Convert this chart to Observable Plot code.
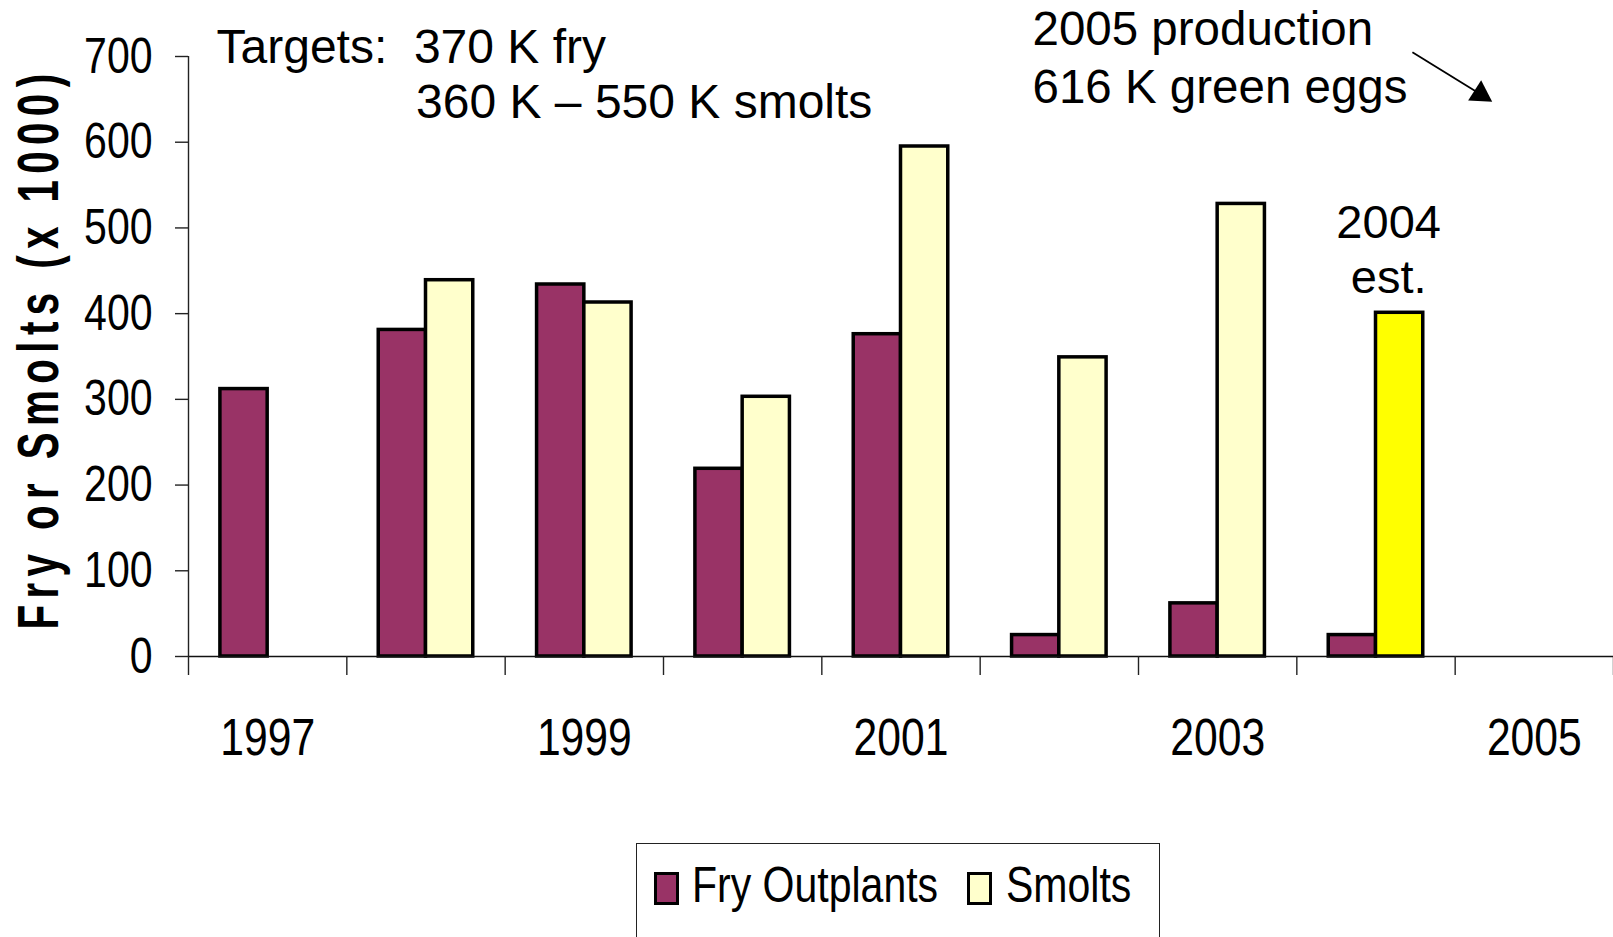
<!DOCTYPE html>
<html><head><meta charset="utf-8">
<script src="https://cdn.jsdelivr.net/npm/d3@7"></script>
<script src="https://cdn.jsdelivr.net/npm/@observablehq/plot@0.6"></script>
<style>
html,body{margin:0;padding:0;background:#fff;overflow:hidden;width:1613px;height:937px;}
#wrap{position:relative;width:1613px;height:937px;}
#chart svg{display:block;}
#legend{position:absolute;left:636px;top:843px;width:524px;height:130px;border:1.5px solid #222;box-sizing:border-box;}
.sw{position:absolute;top:27.5px;width:25px;height:33px;border:3px solid #000;box-sizing:border-box;}
.lt{position:absolute;top:16px;font-size:50px;line-height:1;font-family:"Liberation Sans",Arial,sans-serif;color:#000;white-space:nowrap;transform:scaleX(0.82);transform-origin:0 0;}
[aria-description="ytitle"] text{letter-spacing:9px;}
</style>
</head><body>
<div id="wrap"><div id="chart"></div>
<div id="legend">
  <div class="sw" style="left:16.5px;background:#993366"></div>
  <div class="lt" style="left:54.5px">Fry Outplants</div>
  <div class="sw" style="left:329.5px;background:#FFFFCC"></div>
  <div class="lt" style="left:368.5px">Smolts</div>
</div>
</div>
<script>
// ---- data ----
const years = [1997, 1998, 1999, 2000, 2001, 2002, 2003, 2004, 2005];
const fryOutplants = [312, 381, 434, 219, 376, 25, 62, 25, null];
const smolts = [null, 439, 413, 303, 595, 349, 528, 401, null];
const smoltsEstimated = [false, false, false, false, false, false, false, true, false];
const yTicks = [0, 100, 200, 300, 400, 500, 600, 700];
const xLabelYears = [1997, 1999, 2001, 2003, 2005];
const seriesNames = ["Fry Outplants", "Smolts"];
const seriesColors = {"Fry Outplants": "#993366", "Smolts": "#FFFFCC"};
const estColor = "#FFFF00";
// annotation arrow (data coordinates)
const arrowStart = {x: 2004.23, y: 705};
const arrowEnd = {x: 2004.66, y: 656};

const SANS = '"Liberation Sans",Arial,sans-serif';
const NARROW_FACTOR = 0.82;
const TITLE_LENGTH = 562;

const rows = [];
years.forEach((yr, i) => {
  if (fryOutplants[i] != null) rows.push({year: yr, series: seriesNames[0], value: fryOutplants[i], est: false});
  if (smolts[i] != null) rows.push({year: yr, series: seriesNames[1], value: smolts[i], est: smoltsEstimated[i]});
});
const estRow = rows.find(d => d.est);

const barW = 0.2985; // fraction of a year step
const xMin = years[0] - 0.5, xMax = years[years.length - 1] + 0.5;
const boundaries = d3.range(years.length + 1).map(i => xMin + i);

const chart = Plot.plot({
  width: 1613,
  height: 800,
  marginLeft: 188,
  marginRight: 0,
  marginTop: 56,
  marginBottom: 144,
  style: {background: "#fff", color: "#000", overflow: "visible"},
  x: {domain: [xMin, xMax], axis: null},
  y: {domain: [0, 700], axis: null},
  marks: [
    Plot.rectY(rows, {
      x1: d => d.series === seriesNames[0] ? d.year - barW : d.year,
      x2: d => d.series === seriesNames[0] ? d.year : d.year + barW,
      y: "value",
      fill: d => d.est ? estColor : seriesColors[d.series],
      stroke: "#000",
      strokeWidth: 3.5
    }),
    Plot.ruleX([xMin], {stroke: "#222", strokeWidth: 1.4}),
    Plot.ruleY([0], {stroke: "#111", strokeWidth: 1.6}),
    Plot.axisY({ticks: yTicks, tickSize: 13, tickPadding: 23, fontSize: 50, fontFamily: SANS, label: null, stroke: "#222", strokeWidth: 1.4, tickFormat: d => String(d)}),
    Plot.axisX({ticks: boundaries, tickSize: 19, tickFormat: () => "", label: null, stroke: "#222", strokeWidth: 1.4}),
    Plot.axisX({ticks: xLabelYears, tickSize: 0, tickPadding: 62, fontSize: 52, fontFamily: SANS, label: null, tickFormat: d => String(d)}),
    Plot.text(["Fry or Smolts (x 1000)"], {
      frameAnchor: "left", dx: -149, dy: -8, rotate: -90,
      textAnchor: "middle", lineAnchor: "middle",
      fontSize: 57, fontWeight: "bold", fontFamily: SANS, fill: "#000",
      ariaDescription: "ytitle"
    }),
    Plot.text(["Targets:  370 K fry"], {frameAnchor: "top-left", dx: 28, dy: -28, textAnchor: "start", lineAnchor: "top", fontSize: 48, fontFamily: SANS, fill: "#000"}),
    Plot.text(["360 K \u2013 550 K smolts"], {frameAnchor: "top-left", dx: 227.6, dy: 27, textAnchor: "start", lineAnchor: "top", fontSize: 48, fontFamily: SANS, fill: "#000"}),
    Plot.text(["2005 production"], {frameAnchor: "top-left", dx: 844, dy: -45, textAnchor: "start", lineAnchor: "top", fontSize: 47.5, fontFamily: SANS, fill: "#000"}),
    Plot.text(["616 K green eggs"], {frameAnchor: "top-left", dx: 844, dy: 13, textAnchor: "start", lineAnchor: "top", fontSize: 47.5, fontFamily: SANS, fill: "#000"}),
    Plot.text([estRow], {x: d => d.year + barW / 2, y: "value", text: d => `${d.year}\nest.`, dx: -11, dy: -19.5, textAnchor: "middle", lineAnchor: "bottom", lineHeight: 1.17, fontSize: 47, fontFamily: SANS, fill: "#000"}),
    Plot.link([{a: arrowStart, b: arrowEnd}], {x1: d => d.a.x, y1: d => d.a.y, x2: d => d.b.x, y2: d => d.b.y, stroke: "#000", strokeWidth: 1.8}),
    Plot.dot([arrowEnd], {x: "x", y: "y", symbol: "triangle2", r: 11.5, fill: "#000", stroke: "none", rotate: 122.7})
  ]
});
document.getElementById("chart").appendChild(chart);

// condense the Arial-Narrow-style texts
function setLength(el, len) {
  el.setAttribute("textLength", len.toFixed(2));
  el.setAttribute("lengthAdjust", "spacingAndGlyphs");
}
function condense(selection, f) {
  selection.each(function () {
    const L = this.getComputedTextLength();
    if (L > 0) setLength(this, L * f);
  });
}
const svg = d3.select(chart);
condense(svg.selectAll('g[aria-label="y-axis tick label"] text'), NARROW_FACTOR);
condense(svg.selectAll('g[aria-label="x-axis tick label"] text'), NARROW_FACTOR);
svg.selectAll('g[aria-description="ytitle"] text').each(function () { setLength(this, TITLE_LENGTH); });
</script>
</body></html>
